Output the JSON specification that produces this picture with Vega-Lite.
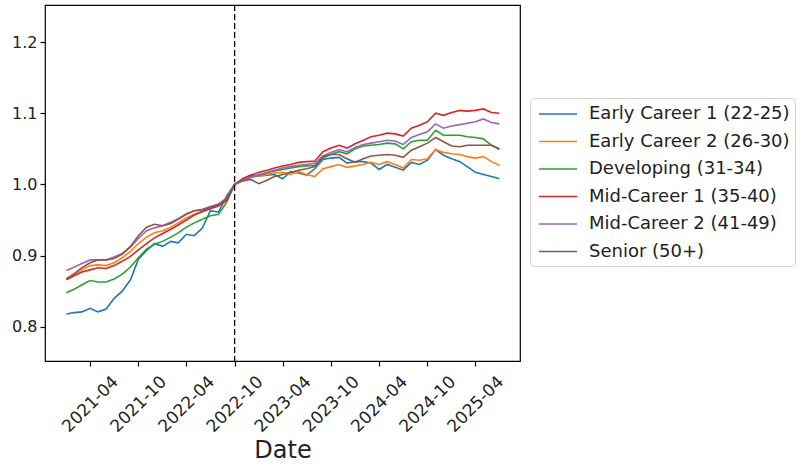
{
  "$schema": "https://vega.github.io/schema/vega-lite/v6.json",
  "autosize": {"type": "none"},
  "padding": {"left": 45, "top": 5, "right": 282, "bottom": 108},
  "width": 475,
  "height": 356,
  "background": "white",
  "config": {
    "view": {"stroke": "black", "strokeWidth": 1.2},
    "font": "DejaVu Sans",
    "axis": {"domain": false, "grid": false, "tickColor": "black", "tickSize": 5, "tickWidth": 1.2, "labelColor": "#222", "labelFont": "DejaVu Sans", "labelFontSize": 16, "titleFont": "DejaVu Sans", "titleColor": "#222", "titleFontWeight": "normal"},
    "legend": {"orient": "none", "legendX": 485, "legendY": 93, "symbolType": "M-1.9,0H1.9", "symbolSize": 400, "symbolOffset": 12, "symbolStrokeWidth": 1.6, "labelFontSize": 18, "labelFont": "DejaVu Sans", "labelColor": "#222", "labelLimit": 400, "labelOffset": 20, "strokeColor": "#d0d0d0", "fillColor": "white", "padding": 5, "cornerRadius": 4, "rowPadding": 7.5}
  },
  "layer": [
    {
      "data": {"values": [
        {"d":"2021-01-01","g":"Early Career 1 (22-25)","v":0.818},{"d":"2021-02-01","g":"Early Career 1 (22-25)","v":0.820},{"d":"2021-03-01","g":"Early Career 1 (22-25)","v":0.821},{"d":"2021-04-01","g":"Early Career 1 (22-25)","v":0.826},{"d":"2021-05-01","g":"Early Career 1 (22-25)","v":0.821},{"d":"2021-06-01","g":"Early Career 1 (22-25)","v":0.825},{"d":"2021-07-01","g":"Early Career 1 (22-25)","v":0.840},{"d":"2021-08-01","g":"Early Career 1 (22-25)","v":0.850},{"d":"2021-09-01","g":"Early Career 1 (22-25)","v":0.866},{"d":"2021-10-01","g":"Early Career 1 (22-25)","v":0.895},{"d":"2021-11-01","g":"Early Career 1 (22-25)","v":0.907},{"d":"2021-12-01","g":"Early Career 1 (22-25)","v":0.917},{"d":"2022-01-01","g":"Early Career 1 (22-25)","v":0.913},{"d":"2022-02-01","g":"Early Career 1 (22-25)","v":0.920},{"d":"2022-03-01","g":"Early Career 1 (22-25)","v":0.918},{"d":"2022-04-01","g":"Early Career 1 (22-25)","v":0.930},{"d":"2022-05-01","g":"Early Career 1 (22-25)","v":0.928},{"d":"2022-06-01","g":"Early Career 1 (22-25)","v":0.939},{"d":"2022-07-01","g":"Early Career 1 (22-25)","v":0.963},{"d":"2022-08-01","g":"Early Career 1 (22-25)","v":0.961},{"d":"2022-09-01","g":"Early Career 1 (22-25)","v":0.984},{"d":"2022-10-01","g":"Early Career 1 (22-25)","v":1.000},{"d":"2022-11-01","g":"Early Career 1 (22-25)","v":1.008},{"d":"2022-12-01","g":"Early Career 1 (22-25)","v":1.013},{"d":"2023-01-01","g":"Early Career 1 (22-25)","v":1.012},{"d":"2023-02-01","g":"Early Career 1 (22-25)","v":1.013},{"d":"2023-03-01","g":"Early Career 1 (22-25)","v":1.014},{"d":"2023-04-01","g":"Early Career 1 (22-25)","v":1.008},{"d":"2023-05-01","g":"Early Career 1 (22-25)","v":1.018},{"d":"2023-06-01","g":"Early Career 1 (22-25)","v":1.016},{"d":"2023-07-01","g":"Early Career 1 (22-25)","v":1.013},{"d":"2023-08-01","g":"Early Career 1 (22-25)","v":1.022},{"d":"2023-09-01","g":"Early Career 1 (22-25)","v":1.035},{"d":"2023-10-01","g":"Early Career 1 (22-25)","v":1.037},{"d":"2023-11-01","g":"Early Career 1 (22-25)","v":1.038},{"d":"2023-12-01","g":"Early Career 1 (22-25)","v":1.030},{"d":"2024-01-01","g":"Early Career 1 (22-25)","v":1.032},{"d":"2024-02-01","g":"Early Career 1 (22-25)","v":1.032},{"d":"2024-03-01","g":"Early Career 1 (22-25)","v":1.030},{"d":"2024-04-01","g":"Early Career 1 (22-25)","v":1.021},{"d":"2024-05-01","g":"Early Career 1 (22-25)","v":1.028},{"d":"2024-06-01","g":"Early Career 1 (22-25)","v":1.024},{"d":"2024-07-01","g":"Early Career 1 (22-25)","v":1.020},{"d":"2024-08-01","g":"Early Career 1 (22-25)","v":1.031},{"d":"2024-09-01","g":"Early Career 1 (22-25)","v":1.028},{"d":"2024-10-01","g":"Early Career 1 (22-25)","v":1.034},{"d":"2024-11-01","g":"Early Career 1 (22-25)","v":1.049},{"d":"2024-12-01","g":"Early Career 1 (22-25)","v":1.041},{"d":"2025-01-01","g":"Early Career 1 (22-25)","v":1.036},{"d":"2025-02-01","g":"Early Career 1 (22-25)","v":1.032},{"d":"2025-03-01","g":"Early Career 1 (22-25)","v":1.025},{"d":"2025-04-01","g":"Early Career 1 (22-25)","v":1.017},{"d":"2025-05-01","g":"Early Career 1 (22-25)","v":1.014},{"d":"2025-06-01","g":"Early Career 1 (22-25)","v":1.011},{"d":"2025-07-01","g":"Early Career 1 (22-25)","v":1.008},
        {"d":"2021-01-01","g":"Early Career 2 (26-30)","v":0.868},{"d":"2021-02-01","g":"Early Career 2 (26-30)","v":0.874},{"d":"2021-03-01","g":"Early Career 2 (26-30)","v":0.880},{"d":"2021-04-01","g":"Early Career 2 (26-30)","v":0.886},{"d":"2021-05-01","g":"Early Career 2 (26-30)","v":0.887},{"d":"2021-06-01","g":"Early Career 2 (26-30)","v":0.886},{"d":"2021-07-01","g":"Early Career 2 (26-30)","v":0.890},{"d":"2021-08-01","g":"Early Career 2 (26-30)","v":0.897},{"d":"2021-09-01","g":"Early Career 2 (26-30)","v":0.906},{"d":"2021-10-01","g":"Early Career 2 (26-30)","v":0.917},{"d":"2021-11-01","g":"Early Career 2 (26-30)","v":0.926},{"d":"2021-12-01","g":"Early Career 2 (26-30)","v":0.932},{"d":"2022-01-01","g":"Early Career 2 (26-30)","v":0.935},{"d":"2022-02-01","g":"Early Career 2 (26-30)","v":0.940},{"d":"2022-03-01","g":"Early Career 2 (26-30)","v":0.946},{"d":"2022-04-01","g":"Early Career 2 (26-30)","v":0.953},{"d":"2022-05-01","g":"Early Career 2 (26-30)","v":0.958},{"d":"2022-06-01","g":"Early Career 2 (26-30)","v":0.962},{"d":"2022-07-01","g":"Early Career 2 (26-30)","v":0.967},{"d":"2022-08-01","g":"Early Career 2 (26-30)","v":0.970},{"d":"2022-09-01","g":"Early Career 2 (26-30)","v":0.979},{"d":"2022-10-01","g":"Early Career 2 (26-30)","v":1.000},{"d":"2022-11-01","g":"Early Career 2 (26-30)","v":1.006},{"d":"2022-12-01","g":"Early Career 2 (26-30)","v":1.010},{"d":"2023-01-01","g":"Early Career 2 (26-30)","v":1.012},{"d":"2023-02-01","g":"Early Career 2 (26-30)","v":1.014},{"d":"2023-03-01","g":"Early Career 2 (26-30)","v":1.016},{"d":"2023-04-01","g":"Early Career 2 (26-30)","v":1.017},{"d":"2023-05-01","g":"Early Career 2 (26-30)","v":1.014},{"d":"2023-06-01","g":"Early Career 2 (26-30)","v":1.018},{"d":"2023-07-01","g":"Early Career 2 (26-30)","v":1.014},{"d":"2023-08-01","g":"Early Career 2 (26-30)","v":1.011},{"d":"2023-09-01","g":"Early Career 2 (26-30)","v":1.022},{"d":"2023-10-01","g":"Early Career 2 (26-30)","v":1.025},{"d":"2023-11-01","g":"Early Career 2 (26-30)","v":1.028},{"d":"2023-12-01","g":"Early Career 2 (26-30)","v":1.024},{"d":"2024-01-01","g":"Early Career 2 (26-30)","v":1.026},{"d":"2024-02-01","g":"Early Career 2 (26-30)","v":1.028},{"d":"2024-03-01","g":"Early Career 2 (26-30)","v":1.031},{"d":"2024-04-01","g":"Early Career 2 (26-30)","v":1.028},{"d":"2024-05-01","g":"Early Career 2 (26-30)","v":1.032},{"d":"2024-06-01","g":"Early Career 2 (26-30)","v":1.028},{"d":"2024-07-01","g":"Early Career 2 (26-30)","v":1.023},{"d":"2024-08-01","g":"Early Career 2 (26-30)","v":1.035},{"d":"2024-09-01","g":"Early Career 2 (26-30)","v":1.034},{"d":"2024-10-01","g":"Early Career 2 (26-30)","v":1.036},{"d":"2024-11-01","g":"Early Career 2 (26-30)","v":1.049},{"d":"2024-12-01","g":"Early Career 2 (26-30)","v":1.045},{"d":"2025-01-01","g":"Early Career 2 (26-30)","v":1.043},{"d":"2025-02-01","g":"Early Career 2 (26-30)","v":1.042},{"d":"2025-03-01","g":"Early Career 2 (26-30)","v":1.039},{"d":"2025-04-01","g":"Early Career 2 (26-30)","v":1.037},{"d":"2025-05-01","g":"Early Career 2 (26-30)","v":1.039},{"d":"2025-06-01","g":"Early Career 2 (26-30)","v":1.032},{"d":"2025-07-01","g":"Early Career 2 (26-30)","v":1.027},
        {"d":"2021-01-01","g":"Developing (31-34)","v":0.848},{"d":"2021-02-01","g":"Developing (31-34)","v":0.853},{"d":"2021-03-01","g":"Developing (31-34)","v":0.859},{"d":"2021-04-01","g":"Developing (31-34)","v":0.865},{"d":"2021-05-01","g":"Developing (31-34)","v":0.863},{"d":"2021-06-01","g":"Developing (31-34)","v":0.863},{"d":"2021-07-01","g":"Developing (31-34)","v":0.867},{"d":"2021-08-01","g":"Developing (31-34)","v":0.874},{"d":"2021-09-01","g":"Developing (31-34)","v":0.884},{"d":"2021-10-01","g":"Developing (31-34)","v":0.897},{"d":"2021-11-01","g":"Developing (31-34)","v":0.909},{"d":"2021-12-01","g":"Developing (31-34)","v":0.916},{"d":"2022-01-01","g":"Developing (31-34)","v":0.920},{"d":"2022-02-01","g":"Developing (31-34)","v":0.926},{"d":"2022-03-01","g":"Developing (31-34)","v":0.932},{"d":"2022-04-01","g":"Developing (31-34)","v":0.940},{"d":"2022-05-01","g":"Developing (31-34)","v":0.946},{"d":"2022-06-01","g":"Developing (31-34)","v":0.951},{"d":"2022-07-01","g":"Developing (31-34)","v":0.956},{"d":"2022-08-01","g":"Developing (31-34)","v":0.958},{"d":"2022-09-01","g":"Developing (31-34)","v":0.975},{"d":"2022-10-01","g":"Developing (31-34)","v":1.000},{"d":"2022-11-01","g":"Developing (31-34)","v":1.006},{"d":"2022-12-01","g":"Developing (31-34)","v":1.010},{"d":"2023-01-01","g":"Developing (31-34)","v":1.013},{"d":"2023-02-01","g":"Developing (31-34)","v":1.016},{"d":"2023-03-01","g":"Developing (31-34)","v":1.019},{"d":"2023-04-01","g":"Developing (31-34)","v":1.021},{"d":"2023-05-01","g":"Developing (31-34)","v":1.023},{"d":"2023-06-01","g":"Developing (31-34)","v":1.025},{"d":"2023-07-01","g":"Developing (31-34)","v":1.026},{"d":"2023-08-01","g":"Developing (31-34)","v":1.027},{"d":"2023-09-01","g":"Developing (31-34)","v":1.037},{"d":"2023-10-01","g":"Developing (31-34)","v":1.042},{"d":"2023-11-01","g":"Developing (31-34)","v":1.046},{"d":"2023-12-01","g":"Developing (31-34)","v":1.043},{"d":"2024-01-01","g":"Developing (31-34)","v":1.050},{"d":"2024-02-01","g":"Developing (31-34)","v":1.054},{"d":"2024-03-01","g":"Developing (31-34)","v":1.055},{"d":"2024-04-01","g":"Developing (31-34)","v":1.056},{"d":"2024-05-01","g":"Developing (31-34)","v":1.058},{"d":"2024-06-01","g":"Developing (31-34)","v":1.057},{"d":"2024-07-01","g":"Developing (31-34)","v":1.050},{"d":"2024-08-01","g":"Developing (31-34)","v":1.060},{"d":"2024-09-01","g":"Developing (31-34)","v":1.062},{"d":"2024-10-01","g":"Developing (31-34)","v":1.062},{"d":"2024-11-01","g":"Developing (31-34)","v":1.076},{"d":"2024-12-01","g":"Developing (31-34)","v":1.069},{"d":"2025-01-01","g":"Developing (31-34)","v":1.069},{"d":"2025-02-01","g":"Developing (31-34)","v":1.069},{"d":"2025-03-01","g":"Developing (31-34)","v":1.067},{"d":"2025-04-01","g":"Developing (31-34)","v":1.066},{"d":"2025-05-01","g":"Developing (31-34)","v":1.064},{"d":"2025-06-01","g":"Developing (31-34)","v":1.055},{"d":"2025-07-01","g":"Developing (31-34)","v":1.049},
        {"d":"2021-01-01","g":"Mid-Career 1 (35-40)","v":0.866},{"d":"2021-02-01","g":"Mid-Career 1 (35-40)","v":0.872},{"d":"2021-03-01","g":"Mid-Career 1 (35-40)","v":0.877},{"d":"2021-04-01","g":"Mid-Career 1 (35-40)","v":0.880},{"d":"2021-05-01","g":"Mid-Career 1 (35-40)","v":0.883},{"d":"2021-06-01","g":"Mid-Career 1 (35-40)","v":0.882},{"d":"2021-07-01","g":"Mid-Career 1 (35-40)","v":0.886},{"d":"2021-08-01","g":"Mid-Career 1 (35-40)","v":0.892},{"d":"2021-09-01","g":"Mid-Career 1 (35-40)","v":0.899},{"d":"2021-10-01","g":"Mid-Career 1 (35-40)","v":0.908},{"d":"2021-11-01","g":"Mid-Career 1 (35-40)","v":0.917},{"d":"2021-12-01","g":"Mid-Career 1 (35-40)","v":0.925},{"d":"2022-01-01","g":"Mid-Career 1 (35-40)","v":0.931},{"d":"2022-02-01","g":"Mid-Career 1 (35-40)","v":0.937},{"d":"2022-03-01","g":"Mid-Career 1 (35-40)","v":0.943},{"d":"2022-04-01","g":"Mid-Career 1 (35-40)","v":0.950},{"d":"2022-05-01","g":"Mid-Career 1 (35-40)","v":0.957},{"d":"2022-06-01","g":"Mid-Career 1 (35-40)","v":0.962},{"d":"2022-07-01","g":"Mid-Career 1 (35-40)","v":0.966},{"d":"2022-08-01","g":"Mid-Career 1 (35-40)","v":0.970},{"d":"2022-09-01","g":"Mid-Career 1 (35-40)","v":0.978},{"d":"2022-10-01","g":"Mid-Career 1 (35-40)","v":1.000},{"d":"2022-11-01","g":"Mid-Career 1 (35-40)","v":1.008},{"d":"2022-12-01","g":"Mid-Career 1 (35-40)","v":1.013},{"d":"2023-01-01","g":"Mid-Career 1 (35-40)","v":1.017},{"d":"2023-02-01","g":"Mid-Career 1 (35-40)","v":1.020},{"d":"2023-03-01","g":"Mid-Career 1 (35-40)","v":1.023},{"d":"2023-04-01","g":"Mid-Career 1 (35-40)","v":1.026},{"d":"2023-05-01","g":"Mid-Career 1 (35-40)","v":1.028},{"d":"2023-06-01","g":"Mid-Career 1 (35-40)","v":1.031},{"d":"2023-07-01","g":"Mid-Career 1 (35-40)","v":1.032},{"d":"2023-08-01","g":"Mid-Career 1 (35-40)","v":1.033},{"d":"2023-09-01","g":"Mid-Career 1 (35-40)","v":1.046},{"d":"2023-10-01","g":"Mid-Career 1 (35-40)","v":1.051},{"d":"2023-11-01","g":"Mid-Career 1 (35-40)","v":1.055},{"d":"2023-12-01","g":"Mid-Career 1 (35-40)","v":1.051},{"d":"2024-01-01","g":"Mid-Career 1 (35-40)","v":1.057},{"d":"2024-02-01","g":"Mid-Career 1 (35-40)","v":1.062},{"d":"2024-03-01","g":"Mid-Career 1 (35-40)","v":1.067},{"d":"2024-04-01","g":"Mid-Career 1 (35-40)","v":1.069},{"d":"2024-05-01","g":"Mid-Career 1 (35-40)","v":1.072},{"d":"2024-06-01","g":"Mid-Career 1 (35-40)","v":1.071},{"d":"2024-07-01","g":"Mid-Career 1 (35-40)","v":1.068},{"d":"2024-08-01","g":"Mid-Career 1 (35-40)","v":1.079},{"d":"2024-09-01","g":"Mid-Career 1 (35-40)","v":1.083},{"d":"2024-10-01","g":"Mid-Career 1 (35-40)","v":1.088},{"d":"2024-11-01","g":"Mid-Career 1 (35-40)","v":1.100},{"d":"2024-12-01","g":"Mid-Career 1 (35-40)","v":1.097},{"d":"2025-01-01","g":"Mid-Career 1 (35-40)","v":1.101},{"d":"2025-02-01","g":"Mid-Career 1 (35-40)","v":1.104},{"d":"2025-03-01","g":"Mid-Career 1 (35-40)","v":1.103},{"d":"2025-04-01","g":"Mid-Career 1 (35-40)","v":1.104},{"d":"2025-05-01","g":"Mid-Career 1 (35-40)","v":1.106},{"d":"2025-06-01","g":"Mid-Career 1 (35-40)","v":1.101},{"d":"2025-07-01","g":"Mid-Career 1 (35-40)","v":1.100},
        {"d":"2021-01-01","g":"Mid-Career 2 (41-49)","v":0.879},{"d":"2021-02-01","g":"Mid-Career 2 (41-49)","v":0.884},{"d":"2021-03-01","g":"Mid-Career 2 (41-49)","v":0.889},{"d":"2021-04-01","g":"Mid-Career 2 (41-49)","v":0.894},{"d":"2021-05-01","g":"Mid-Career 2 (41-49)","v":0.894},{"d":"2021-06-01","g":"Mid-Career 2 (41-49)","v":0.894},{"d":"2021-07-01","g":"Mid-Career 2 (41-49)","v":0.898},{"d":"2021-08-01","g":"Mid-Career 2 (41-49)","v":0.903},{"d":"2021-09-01","g":"Mid-Career 2 (41-49)","v":0.912},{"d":"2021-10-01","g":"Mid-Career 2 (41-49)","v":0.924},{"d":"2021-11-01","g":"Mid-Career 2 (41-49)","v":0.935},{"d":"2021-12-01","g":"Mid-Career 2 (41-49)","v":0.939},{"d":"2022-01-01","g":"Mid-Career 2 (41-49)","v":0.942},{"d":"2022-02-01","g":"Mid-Career 2 (41-49)","v":0.947},{"d":"2022-03-01","g":"Mid-Career 2 (41-49)","v":0.952},{"d":"2022-04-01","g":"Mid-Career 2 (41-49)","v":0.959},{"d":"2022-05-01","g":"Mid-Career 2 (41-49)","v":0.963},{"d":"2022-06-01","g":"Mid-Career 2 (41-49)","v":0.965},{"d":"2022-07-01","g":"Mid-Career 2 (41-49)","v":0.969},{"d":"2022-08-01","g":"Mid-Career 2 (41-49)","v":0.972},{"d":"2022-09-01","g":"Mid-Career 2 (41-49)","v":0.981},{"d":"2022-10-01","g":"Mid-Career 2 (41-49)","v":1.000},{"d":"2022-11-01","g":"Mid-Career 2 (41-49)","v":1.006},{"d":"2022-12-01","g":"Mid-Career 2 (41-49)","v":1.010},{"d":"2023-01-01","g":"Mid-Career 2 (41-49)","v":1.014},{"d":"2023-02-01","g":"Mid-Career 2 (41-49)","v":1.017},{"d":"2023-03-01","g":"Mid-Career 2 (41-49)","v":1.020},{"d":"2023-04-01","g":"Mid-Career 2 (41-49)","v":1.023},{"d":"2023-05-01","g":"Mid-Career 2 (41-49)","v":1.025},{"d":"2023-06-01","g":"Mid-Career 2 (41-49)","v":1.027},{"d":"2023-07-01","g":"Mid-Career 2 (41-49)","v":1.028},{"d":"2023-08-01","g":"Mid-Career 2 (41-49)","v":1.030},{"d":"2023-09-01","g":"Mid-Career 2 (41-49)","v":1.040},{"d":"2023-10-01","g":"Mid-Career 2 (41-49)","v":1.045},{"d":"2023-11-01","g":"Mid-Career 2 (41-49)","v":1.049},{"d":"2023-12-01","g":"Mid-Career 2 (41-49)","v":1.046},{"d":"2024-01-01","g":"Mid-Career 2 (41-49)","v":1.052},{"d":"2024-02-01","g":"Mid-Career 2 (41-49)","v":1.056},{"d":"2024-03-01","g":"Mid-Career 2 (41-49)","v":1.058},{"d":"2024-04-01","g":"Mid-Career 2 (41-49)","v":1.060},{"d":"2024-05-01","g":"Mid-Career 2 (41-49)","v":1.062},{"d":"2024-06-01","g":"Mid-Career 2 (41-49)","v":1.061},{"d":"2024-07-01","g":"Mid-Career 2 (41-49)","v":1.056},{"d":"2024-08-01","g":"Mid-Career 2 (41-49)","v":1.066},{"d":"2024-09-01","g":"Mid-Career 2 (41-49)","v":1.070},{"d":"2024-10-01","g":"Mid-Career 2 (41-49)","v":1.074},{"d":"2024-11-01","g":"Mid-Career 2 (41-49)","v":1.085},{"d":"2024-12-01","g":"Mid-Career 2 (41-49)","v":1.079},{"d":"2025-01-01","g":"Mid-Career 2 (41-49)","v":1.082},{"d":"2025-02-01","g":"Mid-Career 2 (41-49)","v":1.084},{"d":"2025-03-01","g":"Mid-Career 2 (41-49)","v":1.086},{"d":"2025-04-01","g":"Mid-Career 2 (41-49)","v":1.088},{"d":"2025-05-01","g":"Mid-Career 2 (41-49)","v":1.092},{"d":"2025-06-01","g":"Mid-Career 2 (41-49)","v":1.087},{"d":"2025-07-01","g":"Mid-Career 2 (41-49)","v":1.085},
        {"d":"2021-01-01","g":"Senior (50+)","v":0.867},{"d":"2021-02-01","g":"Senior (50+)","v":0.875},{"d":"2021-03-01","g":"Senior (50+)","v":0.883},{"d":"2021-04-01","g":"Senior (50+)","v":0.890},{"d":"2021-05-01","g":"Senior (50+)","v":0.894},{"d":"2021-06-01","g":"Senior (50+)","v":0.894},{"d":"2021-07-01","g":"Senior (50+)","v":0.896},{"d":"2021-08-01","g":"Senior (50+)","v":0.902},{"d":"2021-09-01","g":"Senior (50+)","v":0.913},{"d":"2021-10-01","g":"Senior (50+)","v":0.928},{"d":"2021-11-01","g":"Senior (50+)","v":0.940},{"d":"2021-12-01","g":"Senior (50+)","v":0.944},{"d":"2022-01-01","g":"Senior (50+)","v":0.942},{"d":"2022-02-01","g":"Senior (50+)","v":0.945},{"d":"2022-03-01","g":"Senior (50+)","v":0.951},{"d":"2022-04-01","g":"Senior (50+)","v":0.958},{"d":"2022-05-01","g":"Senior (50+)","v":0.963},{"d":"2022-06-01","g":"Senior (50+)","v":0.964},{"d":"2022-07-01","g":"Senior (50+)","v":0.968},{"d":"2022-08-01","g":"Senior (50+)","v":0.972},{"d":"2022-09-01","g":"Senior (50+)","v":0.980},{"d":"2022-10-01","g":"Senior (50+)","v":1.000},{"d":"2022-11-01","g":"Senior (50+)","v":1.005},{"d":"2022-12-01","g":"Senior (50+)","v":1.007},{"d":"2023-01-01","g":"Senior (50+)","v":1.001},{"d":"2023-02-01","g":"Senior (50+)","v":1.006},{"d":"2023-03-01","g":"Senior (50+)","v":1.011},{"d":"2023-04-01","g":"Senior (50+)","v":1.014},{"d":"2023-05-01","g":"Senior (50+)","v":1.017},{"d":"2023-06-01","g":"Senior (50+)","v":1.020},{"d":"2023-07-01","g":"Senior (50+)","v":1.022},{"d":"2023-08-01","g":"Senior (50+)","v":1.025},{"d":"2023-09-01","g":"Senior (50+)","v":1.039},{"d":"2023-10-01","g":"Senior (50+)","v":1.042},{"d":"2023-11-01","g":"Senior (50+)","v":1.042},{"d":"2023-12-01","g":"Senior (50+)","v":1.036},{"d":"2024-01-01","g":"Senior (50+)","v":1.031},{"d":"2024-02-01","g":"Senior (50+)","v":1.036},{"d":"2024-03-01","g":"Senior (50+)","v":1.040},{"d":"2024-04-01","g":"Senior (50+)","v":1.041},{"d":"2024-05-01","g":"Senior (50+)","v":1.042},{"d":"2024-06-01","g":"Senior (50+)","v":1.041},{"d":"2024-07-01","g":"Senior (50+)","v":1.038},{"d":"2024-08-01","g":"Senior (50+)","v":1.048},{"d":"2024-09-01","g":"Senior (50+)","v":1.053},{"d":"2024-10-01","g":"Senior (50+)","v":1.058},{"d":"2024-11-01","g":"Senior (50+)","v":1.066},{"d":"2024-12-01","g":"Senior (50+)","v":1.060},{"d":"2025-01-01","g":"Senior (50+)","v":1.054},{"d":"2025-02-01","g":"Senior (50+)","v":1.053},{"d":"2025-03-01","g":"Senior (50+)","v":1.055},{"d":"2025-04-01","g":"Senior (50+)","v":1.055},{"d":"2025-05-01","g":"Senior (50+)","v":1.055},{"d":"2025-06-01","g":"Senior (50+)","v":1.055},{"d":"2025-07-01","g":"Senior (50+)","v":1.050}
      ]},
      "mark": {"type": "line", "strokeWidth": 1.6, "clip": true},
      "encoding": {
        "x": {"field": "d", "type": "temporal",
          "scale": {"type": "utc", "domain": [{"year": 2020, "month": 10, "date": 12, "utc": true}, {"year": 2025, "month": 9, "date": 17, "utc": true}]},
          "axis": {"title": "Date", "titleFontSize": 24, "titlePadding": 4, "format": "%Y-%m", "labelAngle": -45, "labelAlign": "center", "labelBaseline": "middle", "labelPadding": 38, "labelFontSize": 17, "labelOverlap": false, "labelBound": false,
            "values": [{"year": 2021, "month": 4, "date": 1, "utc": true}, {"year": 2021, "month": 10, "date": 1, "utc": true}, {"year": 2022, "month": 4, "date": 1, "utc": true}, {"year": 2022, "month": 10, "date": 1, "utc": true}, {"year": 2023, "month": 4, "date": 1, "utc": true}, {"year": 2023, "month": 10, "date": 1, "utc": true}, {"year": 2024, "month": 4, "date": 1, "utc": true}, {"year": 2024, "month": 10, "date": 1, "utc": true}, {"year": 2025, "month": 4, "date": 1, "utc": true}]}},
        "y": {"field": "v", "type": "quantitative",
          "scale": {"domain": [0.752, 1.252], "nice": false, "zero": false},
          "axis": {"title": null, "values": [0.8, 0.9, 1.0, 1.1, 1.2], "format": ".1f", "labelPadding": 3}},
        "color": {"field": "g", "type": "nominal",
          "scale": {"domain": ["Early Career 1 (22-25)", "Early Career 2 (26-30)", "Developing (31-34)", "Mid-Career 1 (35-40)", "Mid-Career 2 (41-49)", "Senior (50+)"], "range": ["#1f77b4", "#ff7f0e", "#2ca02c", "#d62728", "#9467bd", "#8c564b"]},
          "legend": {"title": null}}
      }
    },
    {
      "data": {"values": [{"d": "2022-10-01"}]},
      "mark": {"type": "rule", "color": "black", "strokeDash": [6, 3], "strokeWidth": 1.3},
      "encoding": {"x": {"field": "d", "type": "temporal"}}
    }
  ]
}
